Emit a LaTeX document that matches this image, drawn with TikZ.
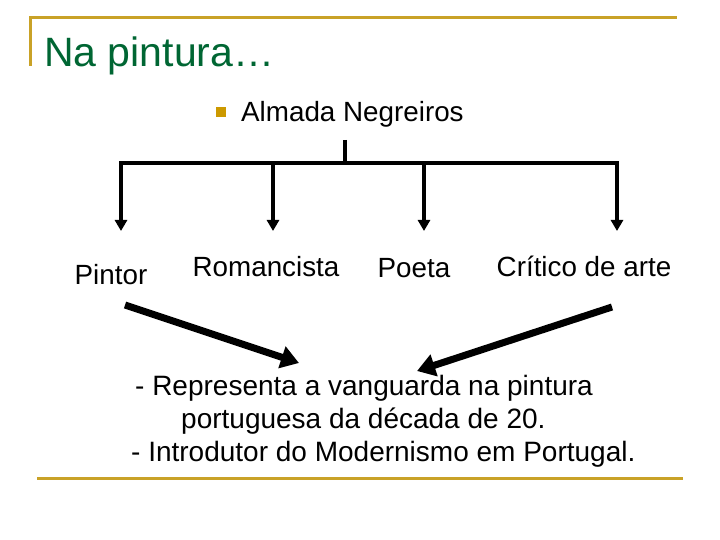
\documentclass[tikz,border=0pt]{standalone}
\usepackage{fontspec}
\setmainfont{Liberation Sans}
\usetikzlibrary{arrows.meta}
\definecolor{gold}{RGB}{201,162,39}
\definecolor{titlegreen}{RGB}{0,102,51}
\definecolor{bulletgold}{RGB}{204,153,0}

\begin{document}
\begin{tikzpicture}[x=1pt, y=-1pt,
    label/.style={anchor=base, font=\fontsize{27.8}{33}\selectfont, inner sep=0pt},
    body/.style={anchor=base west, font=\fontsize{28}{33}\selectfont, inner sep=0pt},
    rule/.style={draw=gold, line width=3pt},
    branch/.style={line width=4pt},
    down/.style={branch, -{Triangle[width=12pt,length=11pt]}},
    big/.style={line width=7pt, -{Triangle[width=22pt,length=18pt]}}]
  \useasboundingbox (0,0) rectangle (720,540);

  \draw[rule] (30,66) -- (30,18) -- (677,18);
  \draw[rule] (37,478) -- (683,478);
  \node[anchor=base west, inner sep=0pt, text=titlegreen,
        font=\fontsize{41}{48}\selectfont] (title) at (44,67) {Na pintura…};

  \fill[bulletgold] (216,107) rectangle (226,117);
  \node[label, anchor=base west] (root) at (241,122) {Almada Negreiros};

  \coordinate (stem) at (345,140);
  \coordinate (bar) at (345,163);
  \coordinate (barl) at (119,163);
  \coordinate (barr) at (619,163);
  \draw[branch] (stem) -- (bar);
  \draw[branch] (barl) -- (barr);

  \node[label] (pintor) at (111,284) {Pintor};
  \node[label] (roman) at (266,276) {Romancista};
  \node[label] (poeta) at (414,277) {Poeta};
  \node[label] (critico) at (584,276) {Crítico de arte};

  \coordinate (a1) at (121,163);
  \coordinate (a2) at (273,163);
  \coordinate (a3) at (424,163);
  \coordinate (a4) at (617,163);
  \coordinate (e1) at (121,231);
  \coordinate (e2) at (273,231);
  \coordinate (e3) at (424,231);
  \coordinate (e4) at (617,231);
  \draw[down] (a1) -- (e1);
  \draw[down] (a2) -- (e2);
  \draw[down] (a3) -- (e3);
  \draw[down] (a4) -- (e4);

  \coordinate (l0) at (125,305);
  \coordinate (l1) at (299,363);
  \coordinate (r0) at (612,307);
  \coordinate (r1) at (417,371);
  \draw[big] (l0) -- (l1);
  \draw[big] (r0) -- (r1);

  \node[body] (line1) at (135,395) {- Representa a vanguarda na pintura};
  \node[body] (line2) at (181,428) {portuguesa da década de 20.};
  \node[body] (line3) at (131,461) {- Introdutor do Modernismo em Portugal.};
\end{tikzpicture}
\end{document}
